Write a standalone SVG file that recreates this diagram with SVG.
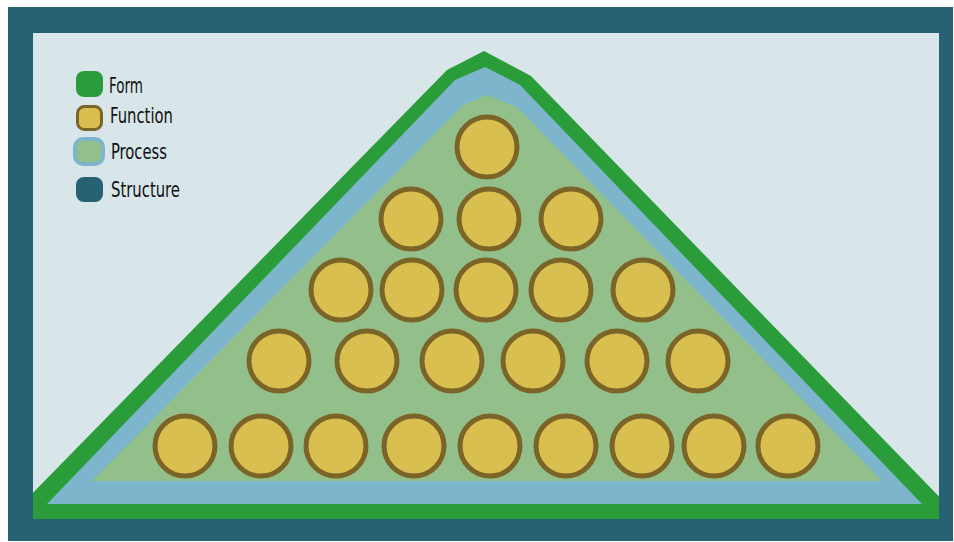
<svg xmlns="http://www.w3.org/2000/svg" width="954" height="542" viewBox="0 0 954 542">
<defs>
<style>
.fn{fill:#d9bf4f;stroke:#7a6428;stroke-width:5}
.lbl{font-family:"DejaVu Sans Condensed","DejaVu Sans",sans-serif;font-size:22px;fill:#111}
</style>
<clipPath id="inner"><rect x="33" y="33" width="906" height="486"/></clipPath>
</defs>
<rect id="structure" x="8" y="7" width="945" height="534" fill="#266273"/>
<rect id="background" x="33" y="33" width="906" height="486" fill="#d8e6ea"/>
<g id="triangle" clip-path="url(#inner)">
<polygon id="form" points="20,519 20,506 447,70 484,51 531,76 952,510 952,519" fill="#2a9d3a"/>
<polygon id="process-border" points="47,504 455,80 485,67 520,85 922,504" fill="#7db6cc"/>
<polygon id="process" points="92,481 463,105 487,95 517,107 882,481" fill="#93c08a"/>
</g>
<g id="functions">
<circle class="fn" cx="487" cy="147" r="30"/>
<circle class="fn" cx="411" cy="219" r="30"/>
<circle class="fn" cx="489" cy="219" r="30"/>
<circle class="fn" cx="571" cy="219" r="30"/>
<circle class="fn" cx="341" cy="290" r="30"/>
<circle class="fn" cx="412" cy="290" r="30"/>
<circle class="fn" cx="486" cy="290" r="30"/>
<circle class="fn" cx="561" cy="290" r="30"/>
<circle class="fn" cx="643" cy="290" r="30"/>
<circle class="fn" cx="279" cy="361" r="30"/>
<circle class="fn" cx="367" cy="361" r="30"/>
<circle class="fn" cx="452" cy="361" r="30"/>
<circle class="fn" cx="533" cy="361" r="30"/>
<circle class="fn" cx="617" cy="361" r="30"/>
<circle class="fn" cx="698" cy="361" r="30"/>
<circle class="fn" cx="185" cy="446" r="30"/>
<circle class="fn" cx="261" cy="446" r="30"/>
<circle class="fn" cx="336" cy="446" r="30"/>
<circle class="fn" cx="414" cy="446" r="30"/>
<circle class="fn" cx="490" cy="446" r="30"/>
<circle class="fn" cx="566" cy="446" r="30"/>
<circle class="fn" cx="642" cy="446" r="30"/>
<circle class="fn" cx="714" cy="446" r="30"/>
<circle class="fn" cx="788" cy="446" r="30"/>
</g>
<g id="connectors"></g>
<g id="legend">
<g id="legend-form"><rect x="76" y="71" width="27" height="26" rx="8" fill="#2a9d3a"/><text class="lbl" x="109" y="93" textLength="34" lengthAdjust="spacingAndGlyphs">Form</text></g>
<g id="legend-function"><rect x="77.5" y="106.5" width="24" height="23" rx="7" fill="#d9bf4f" stroke="#7a6428" stroke-width="3"/><text class="lbl" x="110" y="123" textLength="63" lengthAdjust="spacingAndGlyphs">Function</text></g>
<g id="legend-process"><rect x="75" y="139" width="28" height="25" rx="8" fill="#93c08a" stroke="#7db6cc" stroke-width="4"/><text class="lbl" x="111" y="159" textLength="56" lengthAdjust="spacingAndGlyphs">Process</text></g>
<g id="legend-structure"><rect x="76" y="177" width="27" height="25" rx="8" fill="#266273"/><text class="lbl" x="111" y="197" textLength="69" lengthAdjust="spacingAndGlyphs">Structure</text></g>
</g>
</svg>
